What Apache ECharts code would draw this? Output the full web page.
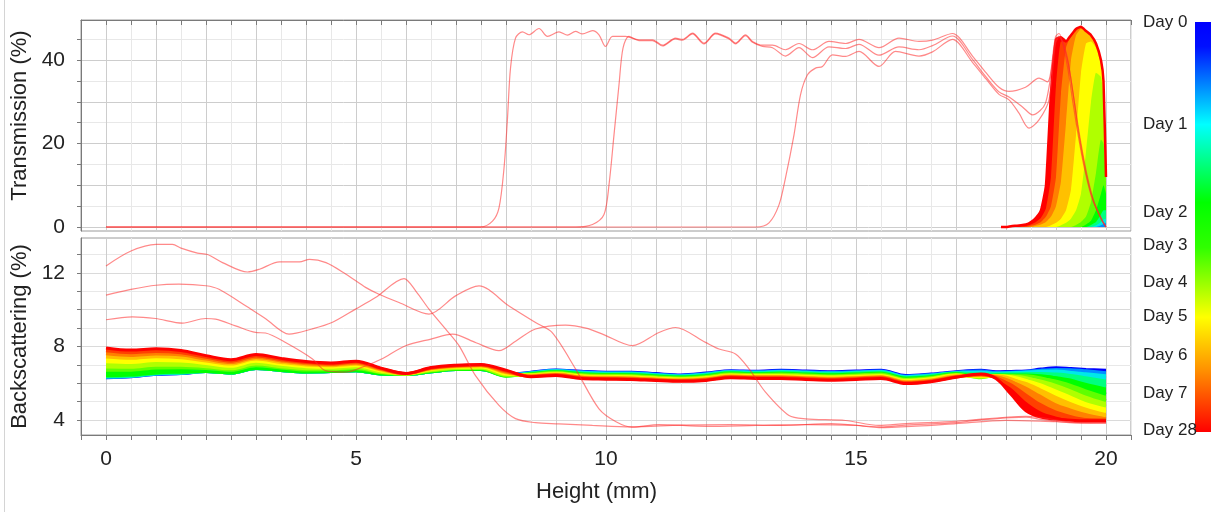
<!DOCTYPE html>
<html>
<head>
<meta charset="utf-8">
<script src="https://cdn.jsdelivr.net/npm/echarts@6.0.0/dist/echarts.min.js"></script>
<style>
  html, body { margin: 0; padding: 0; background: #fff; }
  #chart { width: 1211px; height: 512px; }
</style>
</head>
<body>
<div id="chart"></div>
<script>
// colour of each scan, earliest (Day 0) to latest
const scanColors = ['#0000ff', '#0090ff', '#00e8e8', '#00ff80', '#00ff00', '#60ff00',
  '#b0ff00', '#ffff00', '#ffc000', '#ff8000', '#ff4000', '#ff0000'];

// colour bar labels, position along the bar (0 = top, 1 = bottom)
const dayLabels = ['Day 0', 'Day 1', 'Day 2', 'Day 3', 'Day 4', 'Day 5', 'Day 6', 'Day 7', 'Day 28'];
const dayStops = [0, 0.25, 0.463, 0.544, 0.634, 0.717, 0.812, 0.905, 0.995];

// transmission, dense scans (only the top of the tube is non-zero)
const tX = [17.9, 18.0, 18.1, 18.2, 18.3, 18.4, 18.5, 18.6, 18.7, 18.8, 18.9, 19.0,
  19.1, 19.2, 19.3, 19.4, 19.5, 19.6, 19.7, 19.8, 19.9, 19.95, 20.0];
const tScan0 = [0,0,0,0,0,0,0,0,0,0,0,0,0,0,0,0,0,0,0,0,0,0,0];
const tScan1 = [0,0,0,0,0,0,0,0,0,0,0,0,0,0,0,0,0,0,0,0,0.4,0.7,1];
const tScan2 = [0,0,0,0,0,0,0,0,0,0,0,0,0,0,0,0,0,0,0,0.4,1.2,1.8,2];
const tScan3 = [0,0,0,0,0,0,0,0,0,0,0,0,0,0,0,0,0,0,0.5,1.2,3,4,4];
const tScan4 = [0,0,0,0,0,0,0,0,0,0,0,0,0,0,0,0,0,0.6,1.5,4,8,10,8];
const tScan5 = [0,0,0,0,0,0,0,0,0,0,0,0,0,0,0,0.5,1.2,2.5,6,13,21,20,11];
const tScan6 = [0,0,0,0,0,0,0,0,0,0,0,0,0.4,1,2,4,8,18,30,37,36,31,12];
const tScan7 = [0,0,0,0,0,0,0,0,0,0,0.4,1,2,4,9,22,37,44,44.5,43,39,34,12];
const tScan8 = [0,0,0,0,0,0,0,0.3,0.6,1.2,2.5,5,11,25,40,46,47.5,47,46,44,40,35,12];
const tScan9 = [0,0,0,0,0,0,0.3,0.6,1.2,2.5,5,12,32,43,46,47.5,48,47,46,44,40,35,12];
const tScan10 = [0,0,0,0,0.2,0.3,0.6,1.2,2.2,4.5,12,34,44.5,44.5,46,47.5,48,47,46,44,40,35,12];
const tScan11 = [0,0,0.2,0.3,0.4,0.6,1.2,2.2,4.0,10,32,45,45.5,44.5,46,47.5,48,47,46,44,40,35,12];
const tScans = [tScan0, tScan1, tScan2, tScan3, tScan4, tScan5, tScan6, tScan7, tScan8, tScan9, tScan10, tScan11];

// backscattering, dense scans
const bsX = [0, 0.5, 1, 1.5, 2, 2.5, 3, 3.5, 4, 4.5, 5, 5.5, 6, 6.5, 7, 7.5, 8, 8.5, 9, 9.5,
  10, 10.5, 11, 11.5, 12, 12.5, 13, 13.5, 14, 14.5, 15, 15.5, 16, 16.5, 17, 17.5,
  17.8, 18.1, 18.4, 18.7, 19.0, 19.3, 19.6, 20.0];
const bsScan0 = [6.3,6.35,6.48,6.52,6.63,6.55,6.8,6.69,6.61,6.63,6.68,6.5,6.48,6.62,6.74,6.74,6.47,
  6.6,6.72,6.65,6.6,6.6,6.52,6.45,6.55,6.68,6.65,6.7,6.66,6.62,6.66,6.7,6.42,6.5,6.62,6.7,
  6.62,6.64,6.66,6.77,6.84,6.8,6.75,6.7];
const bsScan1 = [6.32,6.36,6.49,6.53,6.63,6.55,6.8,6.69,6.61,6.63,6.68,6.5,6.48,6.62,6.74,6.74,6.45,
  6.58,6.7,6.62,6.57,6.57,6.49,6.42,6.52,6.65,6.62,6.66,6.62,6.58,6.62,6.66,6.38,6.47,6.6,6.66,
  6.58,6.6,6.63,6.71,6.75,6.73,6.67,6.57];
const bsScan2 = [6.33,6.38,6.51,6.55,6.63,6.55,6.8,6.69,6.61,6.63,6.68,6.5,6.48,6.62,6.74,6.74,6.42,
  6.56,6.67,6.59,6.54,6.54,6.46,6.39,6.49,6.62,6.59,6.63,6.59,6.55,6.59,6.63,6.35,6.43,6.57,6.6,
  6.54,6.57,6.6,6.65,6.66,6.58,6.46,6.28];
const bsScan3 = [6.36,6.4,6.53,6.56,6.63,6.55,6.8,6.69,6.61,6.63,6.68,6.5,6.48,6.62,6.74,6.74,6.4,
  6.54,6.65,6.55,6.5,6.5,6.42,6.36,6.45,6.59,6.55,6.59,6.55,6.51,6.55,6.59,6.31,6.4,6.55,6.5,
  6.5,6.51,6.53,6.53,6.46,6.33,6.1,5.84];
const bsScan4 = [6.4,6.44,6.56,6.6,6.63,6.55,6.8,6.69,6.61,6.63,6.68,6.5,6.48,6.62,6.74,6.74,6.38,
  6.51,6.62,6.51,6.47,6.46,6.39,6.33,6.41,6.55,6.51,6.54,6.5,6.46,6.5,6.54,6.27,6.35,6.52,6.35,
  6.45,6.45,6.45,6.4,6.28,6.05,5.75,5.4];
const bsScan5 = [6.71,6.71,6.83,6.84,6.8,6.7,6.95,6.83,6.72,6.73,6.79,6.57,6.49,6.66,6.79,6.8,6.4,
  6.49,6.59,6.47,6.43,6.42,6.35,6.29,6.37,6.51,6.47,6.5,6.45,6.41,6.45,6.5,6.22,6.31,6.49,6.3,
  6.42,6.42,6.4,6.28,6.05,5.75,5.4,5.05];
const bsScan6 = [6.88,6.87,6.98,6.97,6.9,6.78,7.04,6.9,6.79,6.78,6.85,6.6,6.5,6.69,6.81,6.83,6.45,
  6.46,6.56,6.43,6.39,6.38,6.31,6.26,6.33,6.47,6.44,6.45,6.41,6.37,6.41,6.45,6.18,6.27,6.46,6.32,
  6.4,6.38,6.3,6.08,5.75,5.4,5.05,4.75];
const bsScan7 = [7.17,7.13,7.23,7.2,7.07,6.92,7.19,7.03,6.9,6.87,6.95,6.66,6.51,6.74,6.86,6.88,6.5,
  6.44,6.53,6.39,6.35,6.34,6.27,6.22,6.29,6.43,6.4,6.41,6.36,6.32,6.36,6.41,6.13,6.23,6.43,6.36,
  6.4,6.35,6.15,5.8,5.4,5.05,4.75,4.45];
const bsScan8 = [7.42,7.35,7.44,7.39,7.21,7.04,7.31,7.13,6.99,6.95,7.03,6.71,6.51,6.77,6.9,6.93,6.56,
  6.42,6.5,6.35,6.32,6.3,6.24,6.19,6.25,6.4,6.36,6.37,6.32,6.28,6.32,6.37,6.09,6.19,6.4,6.4,
  6.4,6.25,5.9,5.45,5.0,4.7,4.45,4.22];
const bsScan9 = [7.6,7.51,7.59,7.53,7.31,7.12,7.4,7.21,7.06,7.0,7.09,6.75,6.52,6.8,6.93,6.96,6.61,
  6.39,6.47,6.32,6.28,6.27,6.2,6.16,6.22,6.36,6.33,6.33,6.28,6.24,6.28,6.33,6.05,6.15,6.37,6.44,
  6.35,6.1,5.55,5.0,4.6,4.35,4.17,4.06];
const bsScan10 = [7.76,7.66,7.73,7.65,7.41,7.2,7.48,7.28,7.12,7.05,7.15,6.79,6.52,6.83,6.95,6.99,6.66,
  6.37,6.44,6.28,6.25,6.23,6.17,6.13,6.18,6.33,6.29,6.29,6.24,6.2,6.24,6.29,6.02,6.11,6.34,6.47,
  6.3,5.85,5.1,4.55,4.27,4.1,4.02,4.0];
const bsScan11 = [7.92,7.8,7.87,7.78,7.5,7.28,7.56,7.35,7.18,7.1,7.2,6.82,6.53,6.85,6.98,7.02,6.71,
  6.35,6.42,6.25,6.22,6.2,6.14,6.1,6.15,6.3,6.26,6.25,6.2,6.16,6.2,6.25,5.98,6.08,6.32,6.5,
  6.25,5.4,4.5,4.15,4.05,3.98,3.95,3.95];
const bsScans = [bsScan0, bsScan1, bsScan2, bsScan3, bsScan4, bsScan5, bsScan6, bsScan7, bsScan8, bsScan9, bsScan10, bsScan11];

// late scans (thin lines), [height, value]
const tLate1 = [[0,0],[7.5,0],[7.73,1.4],[7.86,4.6],[7.96,14.1],[8.03,26.1],[8.09,38.1],[8.19,45.3],
  [8.33,46.8],[8.46,46.1],[8.66,47.6],[8.83,45.7],[9.06,46.8],[9.23,46.0],[9.39,46.9],[9.53,46.3],
  [9.73,47.1],[9.86,46.1],[9.99,43.3],[10.13,45.7],[10.39,45.7],[10.66,44.9],[10.93,44.9],[11.13,43.6],
  [11.39,45.3],[11.53,45.0],[11.73,46.5],[11.96,44.1],[12.19,46.5],[12.46,45.3],[12.59,44.1],[12.79,46.1],
  [12.93,44.5],[13.13,43.6],[13.33,43.6],[13.59,42.5],[13.86,44],[14.13,42.5],[14.46,44.5],[14.79,44],
  [15.06,45],[15.46,43],[15.86,45.3],[16.26,44.5],[16.53,44.8],[16.93,46.4],[17.33,41],[17.6,37],
  [17.86,33.5],[18.06,32.5],[18.39,33.5],[18.66,35.7],[18.83,34.8],[18.99,45.6],[19.06,46.4],[19.23,38.4],
  [19.33,30.5],[19.46,20.9],[19.59,12.9],[19.73,6.5],[19.93,1.3],[20.0,0]];
const tLate2 = [[0,0],[9.4,0],[9.73,0.6],[9.96,3.0],[10.06,10.1],[10.16,22.1],[10.26,34.1],[10.34,42.9],
  [10.46,45.7],[10.66,44.7],[10.93,44.7],[11.13,43.4],[11.39,45.1],[11.53,44.8],[11.73,46.3],[11.96,43.9],
  [12.19,46.3],[12.46,45.1],[12.59,43.9],[12.79,45.9],[12.93,44.3],[13.13,43.3],[13.33,43.0],[13.59,41.0],
  [13.86,43.0],[14.13,40.6],[14.46,43.2],[14.79,42.8],[15.06,43.8],[15.46,41.2],[15.86,43.2],[16.26,42.5],
  [16.53,43.5],[16.93,45.8],[17.33,40.2],[17.6,36],[17.86,32.4],[18.06,31.2],[18.33,28.8],[18.53,26.9],
  [18.79,29.7],[18.99,44.5],[19.06,45.8],[19.23,40],[19.36,30.5],[19.5,20],[19.63,12],[19.76,6],
  [19.93,1.5],[20.0,0]];
const tLate3 = [[0,0],[13.0,0],[13.26,1.0],[13.46,5.3],[13.59,11.8],[13.76,22.1],[13.89,31.7],[14.03,36.5],
  [14.19,38.1],[14.33,38.5],[14.53,41.3],[14.79,40.9],[15.06,42.1],[15.46,38.5],[15.79,42.1],[16.26,41],
  [16.53,42],[16.93,45],[17.33,39.5],[17.6,35.5],[17.86,31.8],[18.06,30.5],[18.26,27.3],[18.46,23.7],
  [18.66,25.7],[18.86,30.5],[18.99,44],[19.06,45.5],[19.2,42],[19.33,33],[19.46,22],[19.6,13],
  [19.73,7],[19.9,2],[20.0,0]];
const bsLate1 = [[0,10.79],[0.5,11.1],[1.0,11.33],[1.46,11.39],[2.0,11.3],[2.26,11.11],[2.8,10.2],[3.2,9.49],
  [3.66,8.67],[4.12,8.95],[4.52,9.3],[4.99,10.03],[5.39,10.66],[5.96,11.69],[6.2,11.0],[6.46,10.03],
  [6.79,8.95],[7.06,8.04],[7.39,6.41],[7.86,4.79],[8.19,4.07],[8.59,3.85],[9.06,3.79],[9.73,3.7],
  [10.5,3.62],[11.5,3.72],[12.5,3.75],[13.5,3.7],[14.5,3.8],[15.5,3.62],[16,3.72],[17,3.85],
  [17.5,4.0],[18.4,4.15],[18.7,4.03],[19.5,3.82],[20,3.85]];
const bsLate2 = [[0,12.38],[0.5,13.19],[1.0,13.55],[1.33,13.55],[1.5,13.35],[1.83,13.08],[2.03,13.0],[2.33,12.56],
  [2.83,12.05],[3.07,12.2],[3.47,12.6],[3.87,12.6],[4.07,12.74],[4.4,12.56],[4.8,11.93],[5.2,11.2],
  [5.46,10.84],[5.86,10.39],[6.46,9.76],[6.99,10.75],[7.46,11.29],[8.06,10.2],[8.59,9.3],[8.92,8.76],
  [9.39,6.78],[9.86,4.6],[10.2,3.9],[10.52,3.61],[11.06,3.75],[12,3.65],[13,3.7],[14,3.75],
  [15,3.7],[15.46,3.58],[16.2,3.66],[17,3.8],[18,3.98],[19,3.9],[20,3.82]];
const bsLate3 = [[0,9.45],[0.53,9.61],[0.99,9.52],[1.53,9.27],[1.99,9.52],[2.19,9.49],[2.59,9.12],[2.99,8.76],
  [3.19,8.73],[3.6,8.2],[4.13,7.32],[4.39,6.68],[4.79,6.6],[5.2,6.95],[5.5,7.3],[5.99,8.04],
  [6.5,8.4],[6.93,8.67],[7.4,8.2],[7.86,7.77],[8.2,8.3],[8.59,8.95],[9.19,9.16],[9.6,9.0],
  [9.93,8.67],[10.53,8.04],[11.06,8.76],[11.39,9.03],[11.99,8.22],[12.26,7.86],[12.59,7.59],[12.86,6.78],
  [13.19,5.51],[13.66,4.24],[13.99,4.06],[14.79,3.97],[15.46,3.7],[16,3.8],[17,3.92],[18.4,4.2],
  [19.5,3.85],[20,3.85]];

const transTicks = [0, 5, 10, 15, 20, 25, 30, 35, 40, 45];
const transLabels = [0, 20, 40];
const bsTicks = [4, 5, 6, 7, 8, 9, 10, 11, 12, 13];
const bsLabels = [4, 8, 12];

const FONT = 'Liberation Sans, Arial, sans-serif';
const LATE_COLOR = 'rgba(255, 40, 40, 0.55)';

const chart = echarts.init(document.getElementById('chart'), null, { renderer: 'canvas' });

const zip = (xs, ys) => xs.map((x, i) => [x, ys[i]]);

const series = [];

// fill between neighbouring backscattering scans where they do not cross
// (curves given lowest first; each gap takes the colour of its lower curve).
// Rows are [value, height] so the stack runs on the value dimension.
function addBsFill(stackId, from, to, order) {
  const xs = bsX.slice(from, to);
  const curves = order.map((k) => bsScans[k].slice(from, to));
  const rows = (ys) => xs.map((x, i) => [ys[i], x]);
  series.push({
    type: 'line', xAxisIndex: 1, yAxisIndex: 1, stack: stackId, encode: { x: 1, y: 0 },
    data: rows(curves[0]),
    symbol: 'none', smooth: 0.35, silent: true, z: 1, lineStyle: { width: 0 },
  });
  for (let j = 1; j < curves.length; j++) {
    series.push({
      type: 'line', xAxisIndex: 1, yAxisIndex: 1, stack: stackId, encode: { x: 1, y: 0 },
      data: rows(curves[j].map((v, i) => Math.max(0, v - curves[j - 1][i]))),
      symbol: 'none', smooth: 0.35, silent: true, z: 1, lineStyle: { width: 0 },
      areaStyle: { color: scanColors[order[j - 1]], opacity: 1 },
    });
  }
}
const early = [0, 1, 2, 3, 4, 5, 6, 7, 8, 9, 10, 11];
addBsFill('bsLow', 0, bsX.indexOf(7.5) + 1, early);
addBsFill('bsTop', bsX.indexOf(17.8), bsX.length, early.slice().reverse());

// transmission scans: filled, latest first so each earlier scan shows where it is still rising
for (let i = tScans.length - 1; i >= 0; i--) {
  series.push({
    type: 'line', xAxisIndex: 0, yAxisIndex: 0, data: zip(tX, tScans[i]),
    symbol: 'none', smooth: 0.15, silent: true, z: 2,
    lineStyle: { width: 0 },
    areaStyle: { color: scanColors[i], opacity: 1 },
  });
}
// outline of the latest dense scan
series.push({
  type: 'line', xAxisIndex: 0, yAxisIndex: 0, data: zip(tX, tScan11),
  symbol: 'none', smooth: 0.15, silent: true, z: 2,
  lineStyle: { color: scanColors[11], width: 2.5 },
});
bsScans.forEach((ys, i) => series.push({
  type: 'line', xAxisIndex: 1, yAxisIndex: 1, data: zip(bsX, ys),
  symbol: 'none', smooth: 0.35, silent: true, z: 2,
  lineStyle: { color: scanColors[i], width: 3 },
}));
[tLate1, tLate2, tLate3].forEach((d) => series.push({
  type: 'line', xAxisIndex: 0, yAxisIndex: 0, data: d,
  symbol: 'none', smooth: 0.3, silent: true, z: 3,
  lineStyle: { color: LATE_COLOR, width: 1.2 },
}));
[bsLate1, bsLate2, bsLate3].forEach((d) => series.push({
  type: 'line', xAxisIndex: 1, yAxisIndex: 1, data: d,
  symbol: 'none', smooth: 0.3, silent: true, z: 3,
  lineStyle: { color: LATE_COLOR, width: 1.2 },
}));

const axisGray = '#7a7a7a';
const xBase = {
  type: 'value', min: -0.5, max: 20.5, interval: 0.5,
  axisLine: { show: true, onZero: false, lineStyle: { color: axisGray } },
  splitLine: { show: true, lineStyle: { color: ['#e8e8e8', '#cdcdcd'], width: 1 } },
};

chart.setOption({
  animation: false,
  backgroundColor: '#fff',
  textStyle: { fontFamily: FONT },
  grid: [
    { left: 81, top: 20, width: 1050, height: 211, show: true, borderColor: '#9a9a9a', backgroundColor: 'transparent' },
    { left: 81, top: 238, width: 1050, height: 197, show: true, borderColor: '#9a9a9a', backgroundColor: 'transparent' },
    { left: 1195, top: 22, width: 16, height: 410 },
  ],
  xAxis: [
    Object.assign({}, xBase, {
      gridIndex: 0, position: 'top',
      axisTick: { show: true, inside: true, length: 5, lineStyle: { color: axisGray } },
      axisLabel: { show: false },
    }),
    Object.assign({}, xBase, {
      gridIndex: 1, position: 'bottom',
      axisTick: { show: true, inside: false, length: 5, lineStyle: { color: axisGray } },
      axisLabel: {
        fontSize: 21, color: '#222', margin: 14,
        formatter: (v) => (Math.abs(v % 5) < 1e-9 ? String(v) : ''),
      },
      name: 'Height (mm)', nameLocation: 'middle', nameGap: 46,
      nameTextStyle: { fontSize: 22, color: '#222', padding: [0, 19, 0, 0] },
    }),
    { gridIndex: 2, type: 'value', show: false, min: 0, max: 1 },
  ],
  yAxis: [
    {
      gridIndex: 0, type: 'value', min: -0.96, max: 49.64,
      axisLine: { show: true, onZero: false, lineStyle: { color: axisGray } },
      axisTick: { show: true, length: 4, customValues: transTicks, lineStyle: { color: axisGray } },
      axisLabel: { fontSize: 21, color: '#222', margin: 16, customValues: transLabels },
      splitLine: { show: true, lineStyle: { color: ['#cdcdcd', '#e8e8e8'] } },
      name: 'Transmission (%)', nameLocation: 'middle', nameGap: 43, nameRotate: 90,
      nameTextStyle: { fontSize: 22, color: '#222', padding: [0, 0, 0, 20] },
    },
    {
      gridIndex: 1, type: 'value', min: 3.18, max: 13.9,
      axisLine: { show: true, onZero: false, lineStyle: { color: axisGray } },
      axisTick: { show: true, length: 4, customValues: bsTicks, lineStyle: { color: axisGray } },
      axisLabel: { fontSize: 21, color: '#222', margin: 16, customValues: bsLabels },
      splitLine: { show: true, lineStyle: { color: ['#dadada', '#e8e8e8'] } },
      name: 'Backscattering (%)', nameLocation: 'middle', nameGap: 43, nameRotate: 90,
      nameTextStyle: { fontSize: 22, color: '#222' },
    },
    {
      gridIndex: 2, type: 'value', min: 0, max: 1, inverse: true,
      axisLine: { show: false }, axisTick: { show: false }, splitLine: { show: false },
      axisLabel: {
        customValues: dayStops, align: 'left', margin: 52, fontSize: 17, color: '#222',
        formatter: (v) => dayLabels[dayStops.indexOf(v)] || '',
      },
    },
  ],
  graphic: [
    { type: 'line', shape: { x1: 4.5, y1: 0, x2: 4.5, y2: 512 }, style: { stroke: '#d4d4d4', lineWidth: 1 }, silent: true },
    {
      type: 'rect', shape: { x: 1195, y: 22, width: 16, height: 410 }, silent: true, z: -1,
      style: {
        fill: new echarts.graphic.LinearGradient(0, 0, 0, 1, [
          { offset: 0, color: '#0000ff' },
          { offset: 0.06, color: '#0010ff' },
          { offset: 0.25, color: '#00ffff' },
          { offset: 0.44, color: '#00ff00' },
          { offset: 0.55, color: '#30ff00' },
          { offset: 0.72, color: '#ffff00' },
          { offset: 0.85, color: '#ff9000' },
          { offset: 1, color: '#ff0000' },
        ]),
      },
    },
  ],
  series,
});
</script>
</body>
</html>
